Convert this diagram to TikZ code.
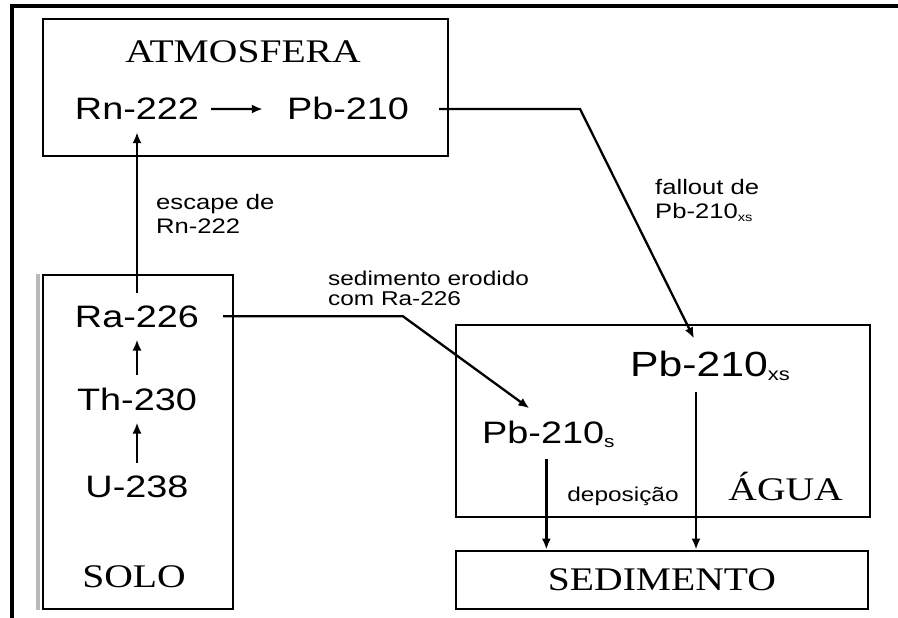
\documentclass[tikz,border=0pt]{standalone}
\usepackage{fontspec}
\setmainfont{Liberation Serif}[FakeStretch=1.2]
\setsansfont{Liberation Sans}[FakeStretch=1.22]
\usetikzlibrary{arrows.meta,positioning,calc}
\newcommand{\isosub}[3]{\raisebox{-#1pt}{\fontsize{#2}{#2}\selectfont #3}}
\tikzset{
  cbox/.style={draw, line width=2.8pt, inner sep=0pt},
  ctitle/.style={font=\rmfamily\fontsize{33}{38}\selectfont, inner sep=0pt},
  ciso/.style={font=\sffamily\fontsize{31}{36}\selectfont, inner sep=12pt},
  cisobig/.style={font=\sffamily\fontsize{35}{40}\selectfont, inner sep=12pt},
  cnote/.style={font=\sffamily\fontsize{21}{24}\selectfont, align=left, inner sep=0pt},
  carrow/.style={-{Latex[length=11pt,width=9pt]}, line width=2.3pt},
  cframe/.style={line width=4pt, line join=miter}
}
\begin{document}
\begin{tikzpicture}[x=1pt,y=-1pt]
\useasboundingbox (0,0) rectangle (898,618);
\draw[cframe] (12,618) -- (12,6) -- (898,6);

% compartments
\node[cbox, minimum width=405pt, minimum height=137pt] (atm) at (245.5,87.5) {};
\node[cbox, minimum width=190pt, minimum height=334pt] (solo) at (138,442) {};
\draw[gray!55, line width=4pt] ([xshift=-3.5pt]solo.north west) -- ([xshift=-3.5pt]solo.south west);
\node[cbox, minimum width=414pt, minimum height=192pt] (agua) at (663,421) {};
\node[cbox, minimum width=412pt, minimum height=58pt, font=\rmfamily\fontsize{33}{38}\selectfont] (sed) at (662,580) {SEDIMENTO};

\node[ctitle, anchor=base] (atmtitle) at (243,63) {ATMOSFERA};
\node[ctitle, anchor=base] (solotitle) at (134,587) {SOLO};
\node[ctitle, anchor=base east] (aguatitle) at (843,500) {ÁGUA};

% isotopes
\node[ciso, anchor=base] (rn) at (137,120) {Rn-222};
\node[ciso, anchor=base] (pb) at (348,120) {Pb-210};
\node[ciso, anchor=base] (ra) at (137,327) {Ra-226};
\node[ciso, anchor=base] (th) at (137,410) {Th-230};
\node[ciso, anchor=base] (u) at (137,497) {U-238};
\node[cisobig, anchor=base west] (pbxs) at (618,376) {Pb-210\isosub{4}{18}{xs}};
\node[ciso, anchor=base west] (pbs) at (470,443) {Pb-210\isosub{4}{17}{s}};

% labels
\node[cnote, anchor=base west] (escape) at (156,233) {escape de\\Rn-222};
\node[cnote, font=\sffamily\fontsize{20}{20}\selectfont, anchor=base west] (erodido) at (328,305) {sedimento erodido\\com Ra-226};
\node[cnote, anchor=base west] (fallout) at (655,218) {fallout de\\Pb-210\isosub{3}{12}{xs}};
\node[cnote, font=\sffamily\fontsize{20}{24}\selectfont, anchor=base] (depos) at (623,501) {deposição};

% connectors
\coordinate (fallbend) at (580,0);
\coordinate (erodbend) at (403,0);
\draw[carrow, shorten >=12pt] (rn) -- (pb);
\draw[carrow] (th) -- (ra);
\draw[carrow] (u) -- (th);
\draw[carrow] (ra) -- (rn);
\draw[carrow, shorten <=18pt] (pb.east) -- (pb.east -| fallbend) -- ([xshift=-16pt]pbxs.north);
\draw[carrow, shorten <=12pt] (ra.east) -- (ra.east -| erodbend) -- ([xshift=-19pt]pbs.north);
\draw[carrow] ([xshift=-2pt]pbs.south) -- ([xshift=-2pt]pbs.south |- sed.north);
\draw[carrow] ([xshift=-14pt]pbxs.south) -- ([xshift=-14pt]pbxs.south |- sed.north);
\end{tikzpicture}
\end{document}
